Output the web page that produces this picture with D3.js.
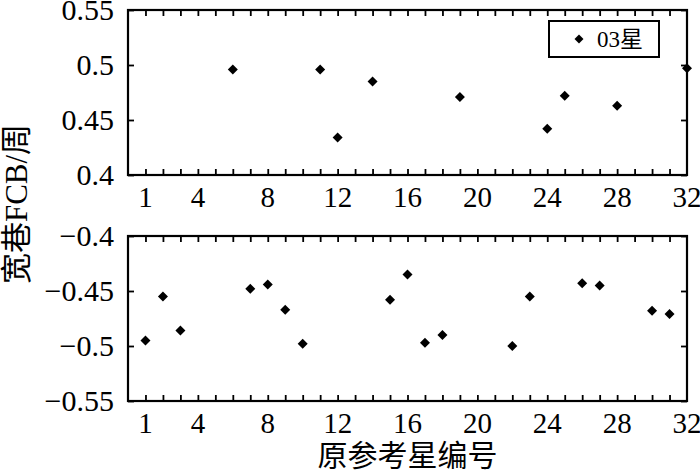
<!DOCTYPE html>
<html>
<head>
<meta charset="utf-8">
<script src="https://cdn.jsdelivr.net/npm/d3@7"></script>
<style>
    body { margin: 0; background: #fff; }
</style>
</head>
<body>
<svg id="chart" width="700" height="474"></svg>
<script>
// Satellite numbers and wide-lane FCB values (cycles)
let topSats = [6, 11, 12, 14, 19, 24, 25, 28, 32];
let topFcb = [0.496, 0.496, 0.434, 0.485, 0.471, 0.442, 0.472, 0.463, 0.497];
let bottomSats = [1, 2, 3, 7, 8, 9, 10, 15, 16, 17, 18, 22, 23, 26, 27, 30, 31];
let bottomFcb = [-0.495, -0.455, -0.486, -0.448, -0.444, -0.467, -0.498, -0.458, -0.435,
    -0.497, -0.490, -0.500, -0.455, -0.443, -0.445, -0.468, -0.471];
let xTickLabels = [1, 4, 8, 12, 16, 20, 24, 28, 32];
let topYTicks = [0.4, 0.45, 0.5, 0.55];
let bottomYTicks = [-0.55, -0.5, -0.45, -0.4];

let serif = "'Liberation Serif', 'Times New Roman', 'DejaVu Serif', 'Noto Sans CJK SC', serif";

let svg = d3.select("#chart");

let left = 128, right = 687;
let x = d3.scaleLinear().domain([0, 32]).range([left, right]);

// rotated-square marker, like matlab's 'd'
let diamond = {
    draw: function (ctx, size) {
        let r = Math.sqrt(size / 2);
        ctx.moveTo(0, -r);
        ctx.lineTo(r, 0);
        ctx.lineTo(0, r);
        ctx.lineTo(-r, 0);
        ctx.closePath();
    }
};
let marker = d3.symbol().type(diamond).size(50);

function fmt(v) {
    return d3.format("")(+v.toFixed(2));
}

function drawPanel(top, bottom, domain, yTicks, sats, vals) {
    let y = d3.scaleLinear().domain(domain).range([bottom, top]);
    let g = svg.append("g");

    // minor ticks every satellite, inward, top and bottom
    let minor = d3.range(1, 32);
    g.append("g")
        .attr("transform", "translate(0," + bottom + ")")
        .call(d3.axisBottom(x).tickValues(minor).tickSize(-6).tickFormat(""))
        .call(s => s.select(".domain").remove());
    g.append("g")
        .attr("transform", "translate(0," + top + ")")
        .call(d3.axisTop(x).tickValues(minor).tickSize(-6).tickFormat(""))
        .call(s => s.select(".domain").remove());

    // x labels
    g.selectAll(".xlab")
        .data(xTickLabels)
        .enter().append("text")
        .attr("x", d => x(d))
        .attr("y", bottom + 32)
        .attr("text-anchor", "middle")
        .style("font-family", serif)
        .style("font-size", "29px")
        .text(d => d);

    // y ticks, left and right
    let yl = g.append("g")
        .attr("transform", "translate(" + left + ",0)")
        .call(d3.axisLeft(y).tickValues(yTicks).tickSize(-6).tickPadding(14).tickFormat(fmt));
    yl.select(".domain").remove();
    yl.selectAll("text")
        .style("font-family", serif)
        .style("font-size", "30px")
        .attr("fill", "#000");
    let yr = g.append("g")
        .attr("transform", "translate(" + right + ",0)")
        .call(d3.axisRight(y).tickValues(yTicks).tickSize(-6).tickFormat(""));
    yr.select(".domain").remove();
    g.selectAll(".tick line").attr("stroke", "#000").attr("stroke-width", 1.8);

    // frame
    g.append("rect")
        .attr("x", left).attr("y", top)
        .attr("width", right - left).attr("height", bottom - top)
        .attr("fill", "none").attr("stroke", "#000").attr("stroke-width", 2.2);

    // points
    g.selectAll(".pt")
        .data(sats)
        .enter().append("path")
        .attr("d", marker)
        .attr("transform", (d, i) => "translate(" + x(d) + "," + y(vals[i]) + ")")
        .attr("fill", "#000");
}

drawPanel(10, 175, [0.4, 0.55], topYTicks, topSats, topFcb);
drawPanel(236, 401, [-0.55, -0.4], bottomYTicks, bottomSats, bottomFcb);

// legend
let leg = svg.append("g");
leg.append("rect")
    .attr("x", 549).attr("y", 21).attr("width", 110).attr("height", 36)
    .attr("fill", "#fff").attr("stroke", "#000").attr("stroke-width", 2);
leg.append("path")
    .attr("d", d3.symbol().type(diamond).size(40))
    .attr("transform", "translate(579,39)");
leg.append("text")
    .attr("x", 597).attr("y", 47)
    .style("font-family", serif)
    .style("font-size", "23px")
    .text("03星");

// axis titles
svg.append("text")
    .attr("x", (left + right) / 2)
    .attr("y", 466)
    .attr("text-anchor", "middle")
    .style("font-family", serif)
    .style("font-size", "30px")
    .text("原参考星编号");

svg.append("text")
    .attr("transform", "translate(27,204) rotate(-90)")
    .attr("text-anchor", "middle")
    .style("font-family", serif)
    .style("font-size", "31px")
    .text("宽巷FCB/周");
</script>
</body>
</html>
